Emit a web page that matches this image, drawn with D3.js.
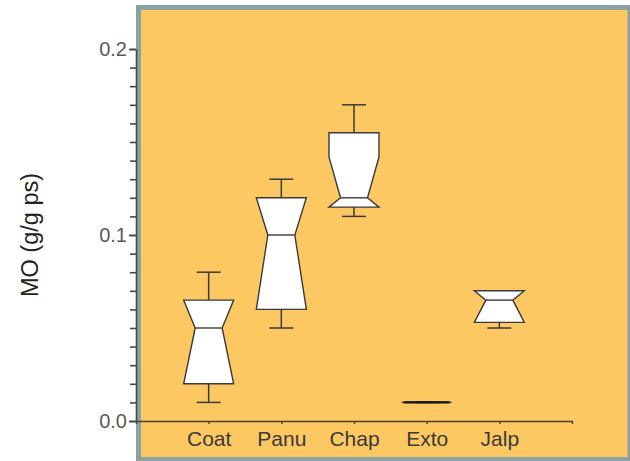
<!DOCTYPE html>
<html>
<head>
<meta charset="utf-8">
<script src="https://cdn.jsdelivr.net/npm/d3@7"></script>
<style>
  html, body { margin: 0; padding: 0; background: #fff; }
  svg { display: block; font-family: "Liberation Sans", Arial, sans-serif; }
</style>
</head>
<body>
<svg id="chart" width="630" height="461"></svg>
<script>
// Box-plot statistics per site (MO, g/g ps)
const categories = ["Coat", "Panu", "Chap", "Exto", "Jalp"];
const whiskerLow  = [0.010, 0.050, 0.110, 0.010, 0.050];
const quartile1   = [0.020, 0.060, 0.115, 0.010, 0.053];
const medians     = [0.050, 0.100, 0.120, 0.010, 0.065];
const quartile3   = [0.065, 0.120, 0.155, 0.010, 0.070];
const whiskerHigh = [0.080, 0.130, 0.170, 0.010, 0.070];
// Median confidence interval (notch limits)
const notchLow    = [0.015, 0.055, 0.098, 0.010, 0.045];
const notchHigh   = [0.085, 0.145, 0.142, 0.010, 0.085];
const majorTicks  = [0.0, 0.1, 0.2];
const yTitle = "MO (g/g ps)";

const svg = d3.select("#chart");

// Plot frame: grey border around the orange plotting panel
svg.append("rect").attr("x", 136).attr("y", 5).attr("width", 494).attr("height", 456)
  .attr("fill", "#8ba2a4");
svg.append("rect").attr("x", 141).attr("y", 10).attr("width", 486.5).attr("height", 447)
  .attr("fill", "#fdc862");

const x = d3.scalePoint().domain(categories).range([136, 572]).padding(1);
const y = d3.scaleLinear().domain([0, 0.2]).range([421, 49]);

// Y axis: minor ticks every 0.01, labelled majors every 0.1
const minor = d3.range(0, 21).map(i => i / 100);
svg.append("g").attr("transform", "translate(136,0)")
  .call(d3.axisLeft(y).tickValues(minor).tickSize(6).tickSizeOuter(0).tickFormat(""))
  .call(g => g.selectAll("line, path").attr("stroke", "#3d4a4c").attr("stroke-width", 1.6));
svg.append("g").attr("transform", "translate(136,0)")
  .call(d3.axisLeft(y).tickValues(majorTicks).tickSize(7).tickSizeOuter(0).tickPadding(2)
        .tickFormat(d3.format(".1f")))
  .call(g => g.select(".domain").remove())
  .call(g => g.selectAll("line").attr("stroke", "#3d4a4c").attr("stroke-width", 1.6))
  .call(g => g.selectAll("text").attr("fill", "#5a5a5a").attr("font-size", 20)
        .attr("font-family", "Liberation Sans, Arial, sans-serif"));

// X axis
svg.append("g").attr("transform", "translate(0,421)")
  .call(d3.axisBottom(x).tickSize(3).tickSizeOuter(3).tickPadding(7))
  .call(g => g.selectAll("line, path").attr("stroke", "#4a4030").attr("stroke-width", 1.4))
  .call(g => g.selectAll("text").attr("fill", "#3a3a3a").attr("font-size", 21)
        .attr("font-family", "Liberation Sans, Arial, sans-serif"));

// Y title
svg.append("text")
  .attr("transform", "translate(30,235) rotate(-90)")
  .attr("text-anchor", "middle").attr("dominant-baseline", "central")
  .attr("font-size", 23.5).attr("fill", "#222").text(yTitle);

// Notched boxes
const halfBox = 25, halfNarrow = 13.5, halfCap = 12;
const boxes = svg.append("g");
categories.forEach((c, i) => {
  const cx = x(c);
  const g = boxes.append("g");
  const stroke = "#3a3a3a";
  // whiskers
  [[quartile3[i], whiskerHigh[i]], [whiskerLow[i], quartile1[i]]].forEach(([a, b]) => {
    g.append("line").attr("x1", cx).attr("x2", cx).attr("y1", y(a)).attr("y2", y(b))
      .attr("stroke", stroke).attr("stroke-width", 1.5);
  });
  [whiskerLow[i], whiskerHigh[i]].forEach(v => {
    g.append("line").attr("x1", cx - halfCap).attr("x2", cx + halfCap)
      .attr("y1", y(v)).attr("y2", y(v)).attr("stroke", stroke).attr("stroke-width", 1.5);
  });
  // notch limits are clipped to the box
  const nHi = Math.min(notchHigh[i], quartile3[i]);
  const nLo = Math.max(notchLow[i], quartile1[i]);
  const pts = [
    [cx - halfBox, y(quartile3[i])], [cx + halfBox, y(quartile3[i])],
    [cx + halfBox, y(nHi)], [cx + halfNarrow, y(medians[i])],
    [cx + halfBox, y(nLo)], [cx + halfBox, y(quartile1[i])],
    [cx - halfBox, y(quartile1[i])], [cx - halfBox, y(nLo)],
    [cx - halfNarrow, y(medians[i])], [cx - halfBox, y(nHi)]
  ];
  const flat = quartile1[i] === quartile3[i];
  g.append("path").attr("d", d3.line()(pts) + "Z")
    .attr("fill", "#fff").attr("stroke", stroke).attr("stroke-width", 1.4)
    .attr("stroke-linejoin", "miter");
  // a box with no spread collapses to a single heavier bar
  g.append("line")
    .attr("x1", cx - (flat ? halfBox - 2 : halfNarrow)).attr("x2", cx + (flat ? halfBox - 2 : halfNarrow))
    .attr("y1", y(medians[i])).attr("y2", y(medians[i]))
    .attr("stroke", flat ? "#111" : stroke).attr("stroke-width", flat ? 2.4 : 1.4);
});
</script>
</body>
</html>
